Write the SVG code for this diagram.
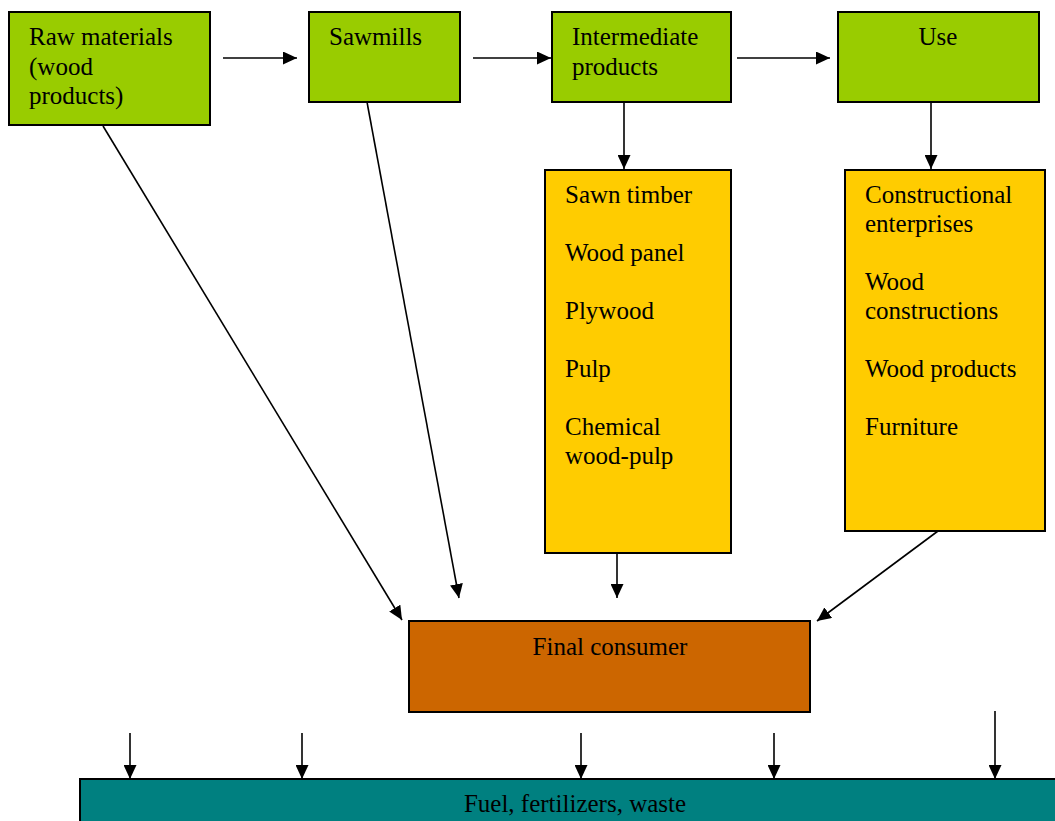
<svg xmlns="http://www.w3.org/2000/svg" width="1055" height="821" viewBox="0 0 1055 821">
  <style>
    .box { stroke: #000; stroke-width: 2; }
    .green { fill: #99cc00; }
    .yellow { fill: #ffcc00; }
    .brown { fill: #cc6600; }
    .teal { fill: #008080; }
    .t { font-family: "Liberation Serif", "Times New Roman", serif; font-size: 25px; fill: #000; }
    .c { text-anchor: middle; }
    .conn line { stroke: #000; stroke-width: 1.6; marker-end: url(#arr); }
  </style>
  <defs>
    <marker id="arr" markerWidth="14" markerHeight="13" refX="14" refY="6.5" orient="auto" markerUnits="userSpaceOnUse">
      <path d="M0,0 L14,6.5 L0,13 Z" fill="#000"/>
    </marker>
  </defs>
  <rect width="1055" height="821" fill="#fff"/>

  <g id="raw-materials">
    <rect class="box green" x="9" y="12" width="201" height="113"/>
    <text class="t" x="29" y="45">Raw materials</text>
    <text class="t" x="29" y="75">(wood</text>
    <text class="t" x="29" y="104">products)</text>
  </g>
  <g id="sawmills">
    <rect class="box green" x="309" y="12" width="151" height="90"/>
    <text class="t" x="329" y="45">Sawmills</text>
  </g>
  <g id="intermediate">
    <rect class="box green" x="552" y="12" width="179" height="90"/>
    <text class="t" x="572" y="45">Intermediate</text>
    <text class="t" x="572" y="75">products</text>
  </g>
  <g id="use">
    <rect class="box green" x="838" y="12" width="201" height="90"/>
    <text class="t c" x="938" y="45">Use</text>
  </g>
  <g id="products-list">
    <rect class="box yellow" x="545" y="170" width="186" height="383"/>
    <text class="t" x="565" y="203">Sawn timber</text>
    <text class="t" x="565" y="261">Wood panel</text>
    <text class="t" x="565" y="319">Plywood</text>
    <text class="t" x="565" y="377">Pulp</text>
    <text class="t" x="565" y="435">Chemical</text>
    <text class="t" x="565" y="464">wood-pulp</text>
  </g>
  <g id="use-list">
    <rect class="box yellow" x="845" y="170" width="200" height="361"/>
    <text class="t" x="865" y="203">Constructional</text>
    <text class="t" x="865" y="232">enterprises</text>
    <text class="t" x="865" y="290">Wood</text>
    <text class="t" x="865" y="319">constructions</text>
    <text class="t" x="865" y="377">Wood products</text>
    <text class="t" x="865" y="435">Furniture</text>
  </g>
  <g id="final-consumer">
    <rect class="box brown" x="409" y="621" width="401" height="91"/>
    <text class="t c" x="610" y="655">Final consumer</text>
  </g>
  <g id="fuel-waste">
    <rect class="box teal" x="80" y="779" width="990" height="60"/>
    <text class="t c" x="575" y="812">Fuel, fertilizers, waste</text>
  </g>

  <g id="connectors" class="conn">
    <line x1="223" y1="58" x2="297" y2="58"/>
    <line x1="473" y1="58" x2="551" y2="58"/>
    <line x1="737" y1="58" x2="830" y2="58"/>
    <line x1="624" y1="103" x2="624" y2="169"/>
    <line x1="931" y1="103" x2="931" y2="169"/>
    <line x1="103" y1="126" x2="402" y2="620"/>
    <line x1="367" y1="102" x2="459" y2="598"/>
    <line x1="617" y1="554" x2="617" y2="598"/>
    <line x1="938" y1="531" x2="817" y2="621"/>
    <line x1="130" y1="733" x2="130" y2="779"/>
    <line x1="302" y1="733" x2="302" y2="779"/>
    <line x1="581" y1="733" x2="581" y2="779"/>
    <line x1="774" y1="733" x2="774" y2="779"/>
    <line x1="995" y1="711" x2="995" y2="779"/>
  </g>
</svg>
